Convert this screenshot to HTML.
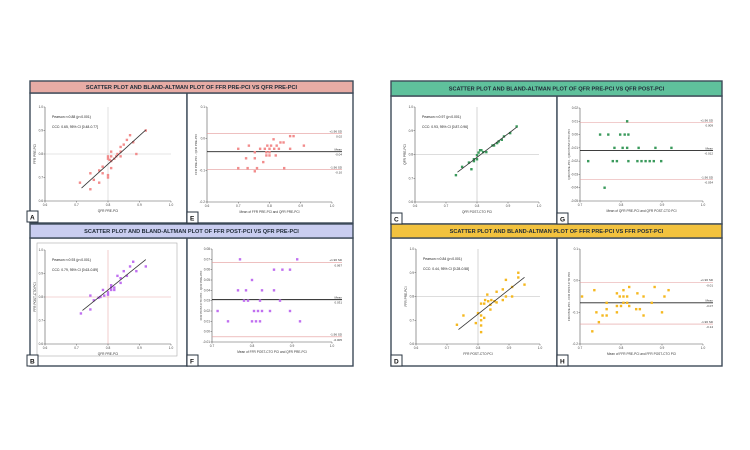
<!DOCTYPE html>
<html><head><meta charset="utf-8"><style>
html,body{margin:0;padding:0;background:#fff;}
svg{display:block;font-family:"Liberation Sans",sans-serif;}
</style></head><body>
<svg id="fig" width="750" height="450" viewBox="0 0 750 450"></svg>
<script>
// Panel A: QFR pre-PCI (x) vs FFR pre-PCI (y)
const aX=[0.711,0.744,0.744,0.755,0.772,0.772,0.783,0.783,0.80,0.80,0.80,0.80,0.81,0.81,0.81,0.81,0.82,0.826,0.83,0.84,0.84,0.84,0.85,0.86,0.87,0.88,0.89,0.92,0.805];
const aY=[0.678,0.718,0.65,0.69,0.678,0.73,0.746,0.718,0.71,0.70,0.78,0.79,0.81,0.74,0.77,0.79,0.78,0.79,0.80,0.79,0.81,0.83,0.84,0.86,0.88,0.85,0.80,0.90,0.775];
// Panel E: Bland-Altman FFR pre vs QFR pre
const eX=[0.70,0.70,0.734,0.725,0.73,0.753,0.753,0.753,0.76,0.77,0.78,0.785,0.79,0.79,0.793,0.80,0.80,0.80,0.805,0.813,0.815,0.82,0.823,0.83,0.835,0.845,0.847,0.866,0.866,0.877,0.91];
const eY=[-0.032,-0.093,-0.022,-0.062,-0.093,-0.043,-0.062,-0.103,-0.093,-0.032,-0.074,-0.032,-0.043,-0.053,-0.022,-0.032,-0.043,-0.053,-0.022,-0.002,-0.032,-0.053,-0.022,-0.032,-0.012,-0.012,-0.093,-0.032,0.008,0.008,-0.022];
const eLines=[0.016,-0.041,-0.098];
const eLabels=["0.02","-0.04","-0.10"];
// Panel B: QFR pre-PCI vs FFR post-PCI
const bX=[0.714,0.744,0.744,0.755,0.77,0.776,0.784,0.788,0.80,0.80,0.81,0.81,0.81,0.82,0.82,0.83,0.84,0.84,0.85,0.86,0.87,0.88,0.89,0.92];
const bY=[0.73,0.747,0.806,0.786,0.797,0.80,0.83,0.806,0.81,0.82,0.85,0.84,0.83,0.84,0.83,0.89,0.86,0.88,0.91,0.89,0.93,0.95,0.91,0.93];
// Panel F
const fX=[0.77,0.913,0.855,0.876,0.895,0.80,0.765,0.785,0.825,0.855,0.78,0.79,0.82,0.87,0.714,0.805,0.815,0.825,0.845,0.895,0.74,0.80,0.81,0.82,0.92];
const fY=[0.07,0.07,0.06,0.06,0.06,0.05,0.04,0.04,0.04,0.04,0.03,0.03,0.03,0.03,0.02,0.02,0.02,0.02,0.02,0.02,0.01,0.01,0.01,0.01,0.01];
const fLines=[0.067,0.031,-0.005];
const fLabels=["0.067","0.031","-0.005"];
// Panel C
const cX=[0.732,0.752,0.774,0.782,0.79,0.79,0.80,0.80,0.805,0.81,0.814,0.82,0.83,0.85,0.855,0.865,0.87,0.88,0.887,0.907,0.928];
const cY=[0.713,0.748,0.766,0.738,0.772,0.78,0.78,0.797,0.808,0.818,0.818,0.81,0.81,0.838,0.838,0.848,0.855,0.862,0.876,0.89,0.918];
// Panel G
const gX=[0.815,0.749,0.769,0.798,0.809,0.818,0.784,0.804,0.815,0.843,0.884,0.923,0.72,0.78,0.79,0.818,0.84,0.85,0.86,0.87,0.88,0.898,0.76];
const gY=[0.01,0,0,0,0,0,-0.01,-0.01,-0.01,-0.01,-0.01,-0.01,-0.02,-0.02,-0.02,-0.02,-0.02,-0.02,-0.02,-0.02,-0.02,-0.02,-0.04];
const gLines=[0.009,-0.012,-0.034];
const gLabels=["0.009","-0.012","-0.034"];
// Panel D
const dX=[0.732,0.753,0.793,0.80,0.81,0.81,0.81,0.81,0.81,0.82,0.82,0.823,0.83,0.833,0.84,0.84,0.843,0.853,0.86,0.86,0.88,0.88,0.89,0.89,0.91,0.91,0.93,0.93,0.95];
const dY=[0.681,0.72,0.688,0.73,0.72,0.70,0.678,0.65,0.77,0.77,0.71,0.785,0.808,0.78,0.765,0.745,0.785,0.78,0.775,0.82,0.785,0.83,0.87,0.80,0.80,0.84,0.88,0.90,0.85];
// Panel H
const hX=[0.705,0.735,0.74,0.746,0.73,0.755,0.765,0.765,0.765,0.79,0.79,0.79,0.797,0.80,0.806,0.806,0.806,0.815,0.815,0.82,0.82,0.837,0.84,0.846,0.855,0.855,0.875,0.882,0.90,0.906,0.916];
const hY=[-0.05,-0.03,-0.10,-0.131,-0.16,-0.11,-0.09,-0.11,-0.07,-0.04,-0.08,-0.10,-0.05,-0.08,-0.03,-0.05,-0.07,-0.05,-0.07,-0.02,-0.08,-0.09,-0.04,-0.09,-0.05,-0.11,-0.07,-0.02,-0.10,-0.05,-0.03];
const hLines=[-0.005,-0.07,-0.137];
const hLabels=["-0.01","-0.07","-0.14"];
const scatTicks=["0.6","0.7","0.8","0.9","1.0"];

const NS="http://www.w3.org/2000/svg";
const svg=document.getElementById('fig');
function mk(tag,attrs,parent,text){const e=document.createElementNS(NS,tag);for(const k in attrs)e.setAttribute(k,attrs[k]);if(text!==undefined)e.textContent=text;(parent||svg).appendChild(e);return e;}
function lin(d0,d1,r0,r1){return v=>r0+(v-d0)*(r1-r0)/(d1-d0);}

function frame(x,y,w,h,name){
  const r=mk('rect',{x:x,y:y,width:w,height:h,fill:'#fff',stroke:'#3d4a58','stroke-width':1.4});
  
  
}
function titleBar(x,y,w,h,fill,text,name){
  const g=mk('g',{});
  
  
  mk('rect',{x:x,y:y,width:w,height:h,fill:fill,stroke:'#3d4a58','stroke-width':1.4},g);
  mk('text',{x:x+w/2,y:y+h/2+2,'font-size':5.6,'font-weight':'bold','text-anchor':'middle',fill:'#1e2a36'},g,text);
}
function letter(x,y,t){
  const g=mk('g',{});
  
  
  mk('rect',{x:x,y:y,width:11,height:11,fill:'#fff',stroke:'#2a3440','stroke-width':1},g);
  mk('text',{x:x+3,y:y+8.5,'font-size':6.5,'font-weight':'bold',fill:'#111'},g,t);
}
function axes(g,x0,x1,y0,y1,xt,xv,yt,yv,sx,sy){
  mk('line',{x1:x0,y1:y1,x2:x0,y2:y0,stroke:'#555','stroke-width':0.6},g);
  mk('line',{x1:x0,y1:y0,x2:x1,y2:y0,stroke:'#555','stroke-width':0.6},g);
  xv.forEach((v,i)=>{const px=sx(v);mk('line',{x1:px,y1:y0,x2:px,y2:y0+1.5,stroke:'#555','stroke-width':0.5},g);
    const t=mk('text',{x:px,y:y0+5,'font-size':3.2,'text-anchor':'middle',fill:'#444'},g,xt[i]);
    });
  yv.forEach((v,i)=>{const py=sy(v);mk('line',{x1:x0-1.5,y1:py,x2:x0,y2:py,stroke:'#555','stroke-width':0.5},g);
    const t=mk('text',{x:x0-2,y:py+1,'font-size':3.2,'text-anchor':'end',fill:'#444'},g,yt[i]);
    });
}
function dots(g,xs,ys,sx,sy,col,name){
  xs.forEach((v,i)=>{const d=mk('rect',{x:sx(v)-1.2,y:sy(ys[i])-1.2,width:2.4,height:2.4,fill:col},g);
    });
}
function scatter(o){
  const g=mk('g',{});
  
  
  const sx=lin(0.6,1.0,o.x0,o.x1), sy=lin(0.6,1.0,o.y0,o.y1);
  const vals=[0.6,0.7,0.8,0.9,1.0];
  mk('line',{x1:sx(0.8),y1:o.y1,x2:sx(0.8),y2:o.y0,stroke:o.cross,'stroke-width':0.6},g);
  mk('line',{x1:o.x0,y1:sy(0.8),x2:o.x1,y2:sy(0.8),stroke:o.cross,'stroke-width':0.6},g);
  axes(g,o.x0,o.x1,o.y0,o.y1,scatTicks,vals,scatTicks,vals,sx,sy);
  dots(g,o.xs,o.ys,sx,sy,o.col,'scatter-point');
  // regression line
  const n=o.xs.length;let mx=0,my=0;o.xs.forEach((v,i)=>{mx+=v;my+=o.ys[i];});mx/=n;my/=n;
  let sxy=0,sxx=0;o.xs.forEach((v,i)=>{sxy+=(v-mx)*(o.ys[i]-my);sxx+=(v-mx)*(v-mx);});
  const b=sxy/sxx,a=my-b*mx;const xa=Math.min(...o.xs)+0.005,xb=Math.max(...o.xs);
  const rl=mk('line',{x1:sx(xa),y1:sy(a+b*xa),x2:sx(xb),y2:sy(a+b*xb),stroke:'#333','stroke-width':0.8},g);
  
  mk('text',{x:o.x0+7,y:o.y1+11,'font-size':3.4,fill:'#222'},g,o.t1);
  mk('text',{x:o.x0+7,y:o.y1+21,'font-size':3.4,fill:'#222'},g,o.t2);
  const xl=mk('text',{x:(o.x0+o.x1)/2,y:o.y0+11,'font-size':3.2,'text-anchor':'middle',fill:'#333'},g,o.xlab);
  
  const cx=o.x0-9,cy=(o.y0+o.y1)/2;
  const yl=mk('text',{x:cx,y:cy,'font-size':3.2,'text-anchor':'middle',fill:'#333',transform:`rotate(-90 ${cx} ${cy})`},g,o.ylab);
  
}
function bland(o){
  const g=mk('g',{});
  
  
  const sx=lin(o.xd[0],o.xd[1],o.x0,o.x1), sy=lin(o.yd[0],o.yd[1],o.y0,o.y1);
  axes(g,o.x0,o.x1,o.y0,o.y1,o.xt,o.xv,o.yt,o.yv,sx,sy);
  const names=['upper-limit-line','mean-line','lower-limit-line'];
  const tags=['+1.96 SD','Mean','-1.96 SD'];
  o.lines.forEach((v,i)=>{const py=sy(v);
    const l=mk('line',{x1:o.x0,y1:py,x2:o.x1+10,y2:py,stroke:i==1?'#222':'#e39a9a','stroke-width':i==1?0.9:0.6},g);
    
    mk('text',{x:o.x1+10,y:py-1.2,'font-size':3,'text-anchor':'end',fill:'#333'},g,tags[i]);
    mk('text',{x:o.x1+10,y:py+4,'font-size':3,'text-anchor':'end',fill:'#333'},g,o.labels[i]);
  });
  dots(g,o.xs,o.ys,sx,sy,o.col,'ba-point');
  const xl=mk('text',{x:(o.x0+o.x1)/2,y:o.y0+11,'font-size':3.2,'text-anchor':'middle',fill:'#333'},g,o.xlab);
  
  const cx=o.x0-10,cy=(o.y0+o.y1)/2;
  const yl=mk('text',{x:cx,y:cy,'font-size':3,'text-anchor':'middle',fill:'#333',transform:`rotate(-90 ${cx} ${cy})`},g,o.ylab);
  
}

// Left block frames
frame(30,93,157,130,'panel-a');frame(187,93,166,130,'panel-e');
frame(30,238,157,128,'panel-b');frame(187,238,166,128,'panel-f');
frame(391,96,166,128,'panel-c');frame(557,96,165,128,'panel-g');
frame(391,238,166,128,'panel-d');frame(557,238,165,128,'panel-h');
titleBar(30,81,323,12,'#e8aca5','SCATTER PLOT AND BLAND-ALTMAN PLOT OF FFR PRE-PCI VS QFR PRE-PCI','title-bar-ffr-pre-vs-qfr-pre');
titleBar(30,224,323,14,'#c9cdf0','SCATTER PLOT AND BLAND-ALTMAN PLOT OF FFR POST-PCI VS QFR PRE-PCI','title-bar-ffr-post-vs-qfr-pre');
titleBar(391,81,331,15,'#5fc19c','SCATTER PLOT AND BLAND-ALTMAN PLOT OF QFR PRE-PCI VS QFR POST-PCI','title-bar-qfr-pre-vs-qfr-post');
titleBar(391,224,331,14,'#f2c23e','SCATTER PLOT AND BLAND-ALTMAN PLOT OF  FFR PRE-PCI VS FFR POST-PCI','title-bar-ffr-pre-vs-ffr-post');
// inner frame panel B
(function(){const r=mk('rect',{x:37,y:243,width:140,height:113,fill:'none',stroke:'#aaa','stroke-width':0.6});})();

scatter({name:'scatter-a',x0:45,x1:171,y0:201,y1:107,xs:aX,ys:aY,col:'#f28c8c',cross:'#ccc',t1:'Pearson r=0.88 (p<0.001)',t2:'CCC: 0.65, 95% CI [0.48-0.77]',xlab:'QFR PRE-PCI',ylab:'FFR PRE-PCI'});
scatter({name:'scatter-b',x0:45,x1:171,y0:344,y1:250,xs:bX,ys:bY,col:'#c070f0',cross:'#e8aaaa',t1:'Pearson r=0.93 (p<0.001)',t2:'CCC: 0.79, 95% CI [0.63-0.89]',xlab:'QFR PRE-PCI',ylab:'FFR POST-CTO PCI'});
scatter({name:'scatter-c',x0:415,x1:539,y0:202,y1:107,xs:cX,ys:cY,col:'#3a9a5c',cross:'#bbb',t1:'Pearson r=0.97 (p<0.001)',t2:'CCC: 0.93, 95% CI [0.87-0.96]',xlab:'QFR POST-CTO PCI',ylab:'QFR PRE-PCI'});
scatter({name:'scatter-d',x0:416,x1:540,y0:344,y1:249,xs:dX,ys:dY,col:'#f5b820',cross:'#bbb',t1:'Pearson r=0.84 (p<0.001)',t2:'CCC: 0.44, 95% CI [0.28-0.58]',xlab:'FFR POST-CTO PCI',ylab:'FFR PRE-PCI'});

bland({name:'bland-altman-e',x0:207,x1:332,y0:202,y1:107,xd:[0.6,1.0],yd:[-0.2,0.1],xv:[0.6,0.7,0.8,0.9,1.0],xt:["0.6","0.7","0.8","0.9","1.0"],yv:[-0.2,-0.1,0,0.1],yt:["-0.2","-0.1","0.0","0.1"],xs:eX,ys:eY,lines:eLines,labels:eLabels,col:'#f28c8c',xlab:'Mean of FFR PRE-PCI and QFR PRE-PCI',ylab:'FFR PRE-PCI - QFR PRE-PCI'});
bland({name:'bland-altman-f',x0:212,x1:332,y0:342,y1:249,xd:[0.7,1.0],yd:[-0.01,0.08],xv:[0.7,0.8,0.9,1.0],xt:["0.7","0.8","0.9","1.0"],yv:[-0.01,0,0.01,0.02,0.03,0.04,0.05,0.06,0.07,0.08],yt:["-0.01","0.00","0.01","0.02","0.03","0.04","0.05","0.06","0.07","0.08"],xs:fX,ys:fY,lines:fLines,labels:fLabels,col:'#c070f0',xlab:'Mean of FFR POST-CTO PCI and QFR PRE-PCI',ylab:'FFR POST-CTO PCI - QFR PRE-PCI'});
bland({name:'bland-altman-g',x0:580,x1:703,y0:201,y1:108,xd:[0.7,1.0],yd:[-0.05,0.02],xv:[0.7,0.8,0.9,1.0],xt:["0.7","0.8","0.9","1.0"],yv:[-0.05,-0.04,-0.03,-0.02,-0.01,0,0.01,0.02],yt:["-0.05","-0.04","-0.03","-0.02","-0.01","0.00","0.01","0.02"],xs:gX,ys:gY,lines:gLines,labels:gLabels,col:'#3a9a5c',xlab:'Mean of QFR PRE-PCI and QFR POST-CTO PCI',ylab:'QFR PRE-PCI - QFR POST-CTO PCI'});
bland({name:'bland-altman-h',x0:580,x1:703,y0:344,y1:249,xd:[0.7,1.0],yd:[-0.2,0.1],xv:[0.7,0.8,0.9,1.0],xt:["0.7","0.8","0.9","1.0"],yv:[-0.2,-0.1,0,0.1],yt:["-0.2","-0.1","0.0","0.1"],xs:hX,ys:hY,lines:hLines,labels:hLabels,col:'#f5b820',xlab:'Mean of FFR PRE-PCI and FFR POST-CTO PCI',ylab:'FFR PRE-PCI - FFR POST-CTO PCI'});

letter(27,211,'A');letter(187,212,'E');letter(27,355,'B');letter(187,355,'F');
letter(391,213,'C');letter(557,213,'G');letter(391,355,'D');letter(557,355,'H');
</script>
</body></html>
